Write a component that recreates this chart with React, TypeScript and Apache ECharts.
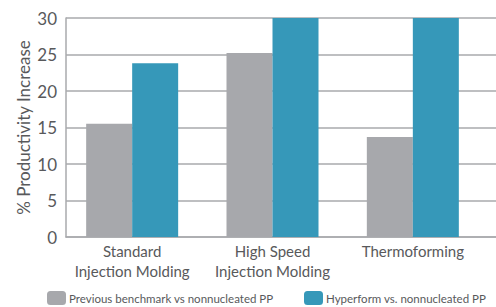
import React, { useEffect, useRef } from "react";
import * as echarts from "echarts";

const categories = ["Standard\nInjection Molding", "High Speed\nInjection Molding", "Thermoforming"];
const previousBenchmark = [15.5, 25.2, 13.7];
const hyperform = [23.8, 30, 30];
const seriesNames = ["Previous benchmark vs nonnucleated PP", "Hyperform vs. nonnucleated PP"];
const yTicks = { min: 0, max: 30, interval: 5 };

const GRAY = "#a7a8ac";
const TEAL = "#3698b9";
const TEXT = "#58595b";
const LINE = "#a9aaad";
const FONT = "Lato, 'Open Sans', sans-serif";

export default function App() {
  const ref = useRef<HTMLDivElement>(null);
  useEffect(() => {
    if (!ref.current) return;
    const chart = echarts.init(ref.current, undefined, { renderer: "svg" });
    chart.setOption({
      animation: false,
      textStyle: { fontFamily: FONT, color: TEXT },
      grid: [
        { left: 66, right: 0, top: 18, bottom: 70 },
        { left: 62, right: 13, top: 18, bottom: 70 },
      ],
      legend: [
        {
          data: [seriesNames[0]],
          left: 42,
          top: 286,
          itemWidth: 19,
          itemHeight: 14,
          textStyle: { fontFamily: FONT, fontSize: 11.5, color: TEXT, padding: [0, 0, 0, -2] },
        },
        {
          data: [seriesNames[1]],
          left: 299,
          top: 286,
          itemWidth: 19,
          itemHeight: 14,
          textStyle: { fontFamily: FONT, fontSize: 11.5, color: TEXT, padding: [0, 0, 0, -2] },
        },
      ],
      xAxis: [
        {
          gridIndex: 0,
          type: "value",
          show: true,
          min: 0,
          max: 1,
          axisLine: { show: true, lineStyle: { color: LINE, width: 1.5 } },
          axisTick: { show: false },
          axisLabel: { show: false },
          splitLine: { show: false },
        },
        {
          gridIndex: 1,
          type: "category",
          data: categories,
          axisLine: { show: false },
          axisTick: { show: false },
          axisLabel: {
            fontFamily: FONT,
            fontSize: 15,
            lineHeight: 20,
            color: TEXT,
            margin: 4,
            interval: 0,
          },
        },
      ],
      yAxis: [
        {
          gridIndex: 0,
          type: "value",
          min: yTicks.min,
          max: yTicks.max,
          interval: yTicks.interval,
          name: "% Productivity Increase",
          nameLocation: "middle",
          nameGap: 34,
          nameMoveOverlap: false,
          nameTextStyle: { fontFamily: FONT, fontSize: 17, color: TEXT },
          axisLine: { show: true, lineStyle: { color: LINE, width: 1.5 } },
          axisTick: { show: false },
          axisLabel: { fontFamily: FONT, fontSize: 17, color: TEXT, margin: 9 },
          splitLine: { show: true, lineStyle: { color: LINE, width: 1.5 } },
        },
        {
          gridIndex: 1,
          type: "value",
          min: yTicks.min,
          max: yTicks.max,
          interval: yTicks.interval,
          show: false,
          splitLine: { show: false },
        },
      ],
      series: [
        {
          name: seriesNames[0],
          type: "bar",
          xAxisIndex: 1,
          yAxisIndex: 1,
          data: previousBenchmark,
          barWidth: 46,
          barGap: "0%",
          itemStyle: { color: GRAY },
        },
        {
          name: seriesNames[1],
          type: "bar",
          xAxisIndex: 1,
          yAxisIndex: 1,
          data: hyperform,
          barWidth: 46,
          barGap: "0%",
          itemStyle: { color: TEAL },
        },
      ],
    });
    return () => chart.dispose();
  }, []);
  return <div ref={ref} style={{ width: 496, height: 307, position: "absolute", left: 0, top: 0 }} />;
}
